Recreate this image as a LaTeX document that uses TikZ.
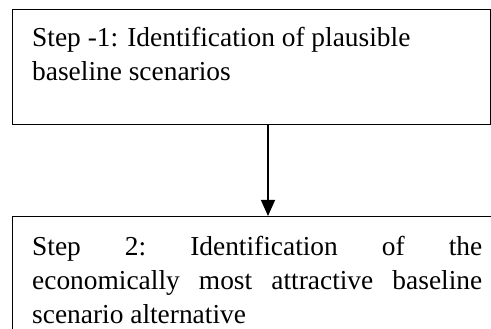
\documentclass[tikz,border=0pt]{standalone}
\usepackage{fontspec}
\setmainfont{Liberation Serif}
\usetikzlibrary{arrows.meta}
\begin{document}
\begin{tikzpicture}[x=1pt,y=-1pt,
  box/.style={draw, line width=1.3pt, inner sep=0pt, anchor=north west},
  txt/.style={anchor=base west, inner sep=0pt, font=\fontsize{27.4}{34}\selectfont},
  flow/.style={line width=1.3pt, -{Triangle[width=14pt,length=16pt]}}]
\useasboundingbox (0,0) rectangle (491,329);
% step boxes (the lower one runs off the page)
\node[box, minimum width=478pt, minimum height=115pt] (s1) at (12,9) {};
\node[box, minimum width=500pt, minimum height=140pt] (s2) at (12,216) {};
% box texts
\node[txt] (t1a) at (32,46.5) {Step -1: Identification of plausible};
\node[txt] (t1b) at (32,80.5) {baseline scenarios};
\node[txt] (t2a) at (32,255) {\makebox[450pt][s]{Step\hfill 2:\hfill Identification\hfill of\hfill the}};
\node[txt] (t2b) at (32,289.5) {\makebox[450pt][s]{economically\hfill most\hfill attractive\hfill baseline}};
\node[txt] (t2c) at (32,323.5) {scenario alternative};
% connector
\coordinate (ax) at (268,0);
\draw[flow] (s1.south -| ax) -- (s2.north -| ax);
\end{tikzpicture}
\end{document}
